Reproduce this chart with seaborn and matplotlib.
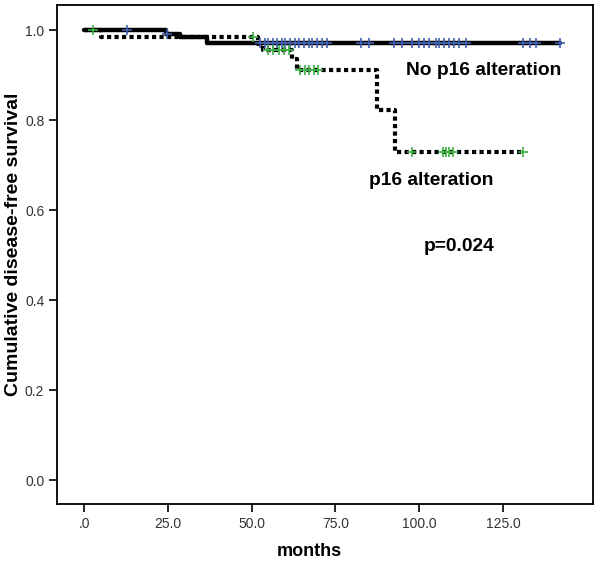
import matplotlib
matplotlib.use("Agg")
import matplotlib.pyplot as plt
import seaborn as sns
import pandas as pd

# ---- data ----
# No p16 alteration: step curve (event times, survival after step)
no_alt_time = [0.0, 24.5, 28.5, 36.5, 142.0]
no_alt_surv = [1.0, 0.992, 0.985, 0.971, 0.971]
# censored observations
no_alt_cens_time = [12.8, 24.8, 52.5, 54.0, 55.0, 56.5, 57.5, 59.0, 60.0, 61.5, 63.0,
                    64.0, 65.5, 67.0, 68.0, 69.5, 71.0, 72.5, 82.5, 85.0, 92.5, 95.0,
                    98.0, 100.0, 101.5, 103.0, 105.0, 106.0, 107.5, 109.0, 110.5,
                    112.0, 114.0, 131.0, 133.0, 135.0, 142.0]
no_alt_cens_surv = [1.0, 0.992] + [0.971] * 35

# p16 alteration
alt_time = [0.0, 5.0, 51.8, 53.5, 62.0, 63.5, 87.5, 92.7, 131.0]
alt_surv = [1.0, 0.985, 0.970, 0.955, 0.935, 0.911, 0.822, 0.729, 0.729]
alt_cens_time = [2.7, 50.5, 55.0, 56.5, 58.0, 59.5, 61.0,
                 64.5, 66.0, 67.0, 68.5, 69.8,
                 98.0, 107.0, 108.0, 109.0, 110.0, 131.0]
alt_cens_surv = [1.0, 0.985] + [0.955] * 5 + [0.911] * 5 + [0.729] * 6

x_ticks = [0, 25, 50, 75, 100, 125]
x_tick_labels = [".0", "25.0", "50.0", "75.0", "100.0", "125.0"]
y_ticks = [0.0, 0.2, 0.4, 0.6, 0.8, 1.0]
y_tick_labels = ["0.0", "0.2", "0.4", "0.6", "0.8", "1.0"]

sns.set_theme(style="ticks")
plt.rcParams["font.family"] = ["Liberation Sans", "DejaVu Sans"]
plt.rcParams["text.color"] = "black"
plt.rcParams["axes.labelcolor"] = "black"

fig = plt.figure(figsize=(6.0, 5.64), dpi=100)
ax = fig.add_axes([0.0958, 0.1064, 0.8925, 0.8846])

df_no = pd.DataFrame({"t": no_alt_time, "s": no_alt_surv})
df_alt = pd.DataFrame({"t": alt_time, "s": alt_surv})

sns.lineplot(data=df_no, x="t", y="s", ax=ax, color="black", linewidth=3.2,
             drawstyle="steps-post", estimator=None, sort=False, zorder=2)
sns.lineplot(data=df_alt, x="t", y="s", ax=ax, color="black", linewidth=3.0,
             drawstyle="steps-post", estimator=None, sort=False,
             linestyle=(0, (1.0, 0.8)), dash_capstyle="butt", zorder=3)

sns.scatterplot(x=no_alt_cens_time, y=no_alt_cens_surv, ax=ax, marker="+",
                color="#4060b0", s=50, linewidth=1.2, zorder=4)
sns.scatterplot(x=alt_cens_time, y=alt_cens_surv, ax=ax, marker="+",
                color="#3cb043", s=50, linewidth=1.2, zorder=5)

ax.set_xlim(-8.0, 151.9)
ax.set_ylim(-0.0533, 1.0556)
ax.set_xticks(x_ticks)
ax.set_xticklabels(x_tick_labels)
ax.set_yticks(y_ticks)
ax.set_yticklabels(y_tick_labels)
ax.tick_params(axis="both", labelsize=10, length=6, width=1.2, colors="black",
               labelcolor="#333333", direction="out")

for sp in ax.spines.values():
    sp.set_visible(True)
    sp.set_color("black")
    sp.set_linewidth(1.3)

ax.set_xlabel("months", fontsize=13, fontweight="bold", color="black")
ax.xaxis.set_label_coords(0.47, -0.079)
ax.set_ylabel("Cumulative disease-free survival", fontsize=14, fontweight="bold",
              va="center", color="black")
ax.yaxis.set_label_coords(-0.082, 0.52)

ax.text(96, 0.91, "No p16 alteration", fontsize=13.8, fontweight="bold",
        ha="left", va="center", color="black")
ax.text(85, 0.665, "p16 alteration", fontsize=13.8, fontweight="bold",
        ha="left", va="center", color="black")
ax.text(101.5, 0.518, "p=0.024", fontsize=13.8, fontweight="bold",
        ha="left", va="center", color="black")

fig.savefig("out.png", dpi=100, facecolor="white")
